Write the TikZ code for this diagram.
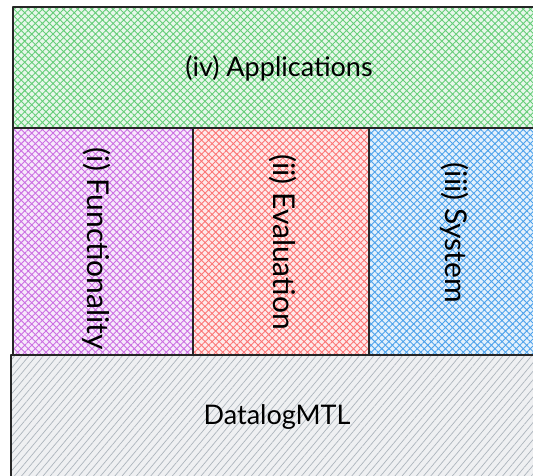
\documentclass[tikz,border=0pt]{standalone}
\usepackage{fontspec}
\setmainfont{Lato}
\usetikzlibrary{patterns.meta}
\definecolor{hgreen}{HTML}{40C057}
\definecolor{hviolet}{HTML}{BE4BDB}
\definecolor{hred}{HTML}{FA5252}
\definecolor{hblue}{HTML}{228BE6}
\definecolor{hgray}{HTML}{ADB5BD}
\tikzset{
  block/.style={draw=black!85, line width=1.5pt, line join=round},
  xhatch/.style={preaction={fill=#1!12}, pattern={Hatch[angle=45,distance=5pt,line width=0.9pt]}, pattern color=#1!80},
  shatch/.style={preaction={fill=#1!20}, pattern={Lines[angle=50,distance=5.5pt,line width=0.7pt]}, pattern color=#1},
  lbl/.style={font=\fontsize{27}{32}\selectfont, text=black, inner sep=0pt},
  vlbl/.style={lbl, font=\fontsize{30}{36}\selectfont, rotate=-90}
}
\begin{document}
\begin{tikzpicture}[x=1pt, y=1pt]
  \useasboundingbox (0,0) rectangle (533,476);
  \clip (0,0) rectangle (533,476);
  % layer boxes
  \path[xhatch=hgreen]  (13,348) rectangle (545,469);
  \path[xhatch=hviolet] (13,121) rectangle (193,348);
  \path[xhatch=hred]    (193,121) rectangle (369,348);
  \path[xhatch=hblue]   (369,121) rectangle (545,348);
  \path[shatch=hgray]   (11,-6) rectangle (545,121);
  % outlines
  \draw[block] (13,348) rectangle (545,469);
  \draw[block] (13,121) rectangle (193,348);
  \draw[block] (193,121) rectangle (369,348);
  \draw[block] (369,121) rectangle (545,348);
  \draw[block] (11,-6) rectangle (545,121);
  % labels
  \node[lbl]  (apps) at (279,408) {(iv) Applications};
  \node[vlbl] (func) at (97,227)  {(i) Functionality};
  \node[vlbl] (eval) at (283,234) {(ii) Evaluation};
  \node[vlbl] (sys)  at (455,243) {(iii) System};
  \node[lbl]  (dmtl) at (277,59)  {DatalogMTL};
\end{tikzpicture}
\end{document}
